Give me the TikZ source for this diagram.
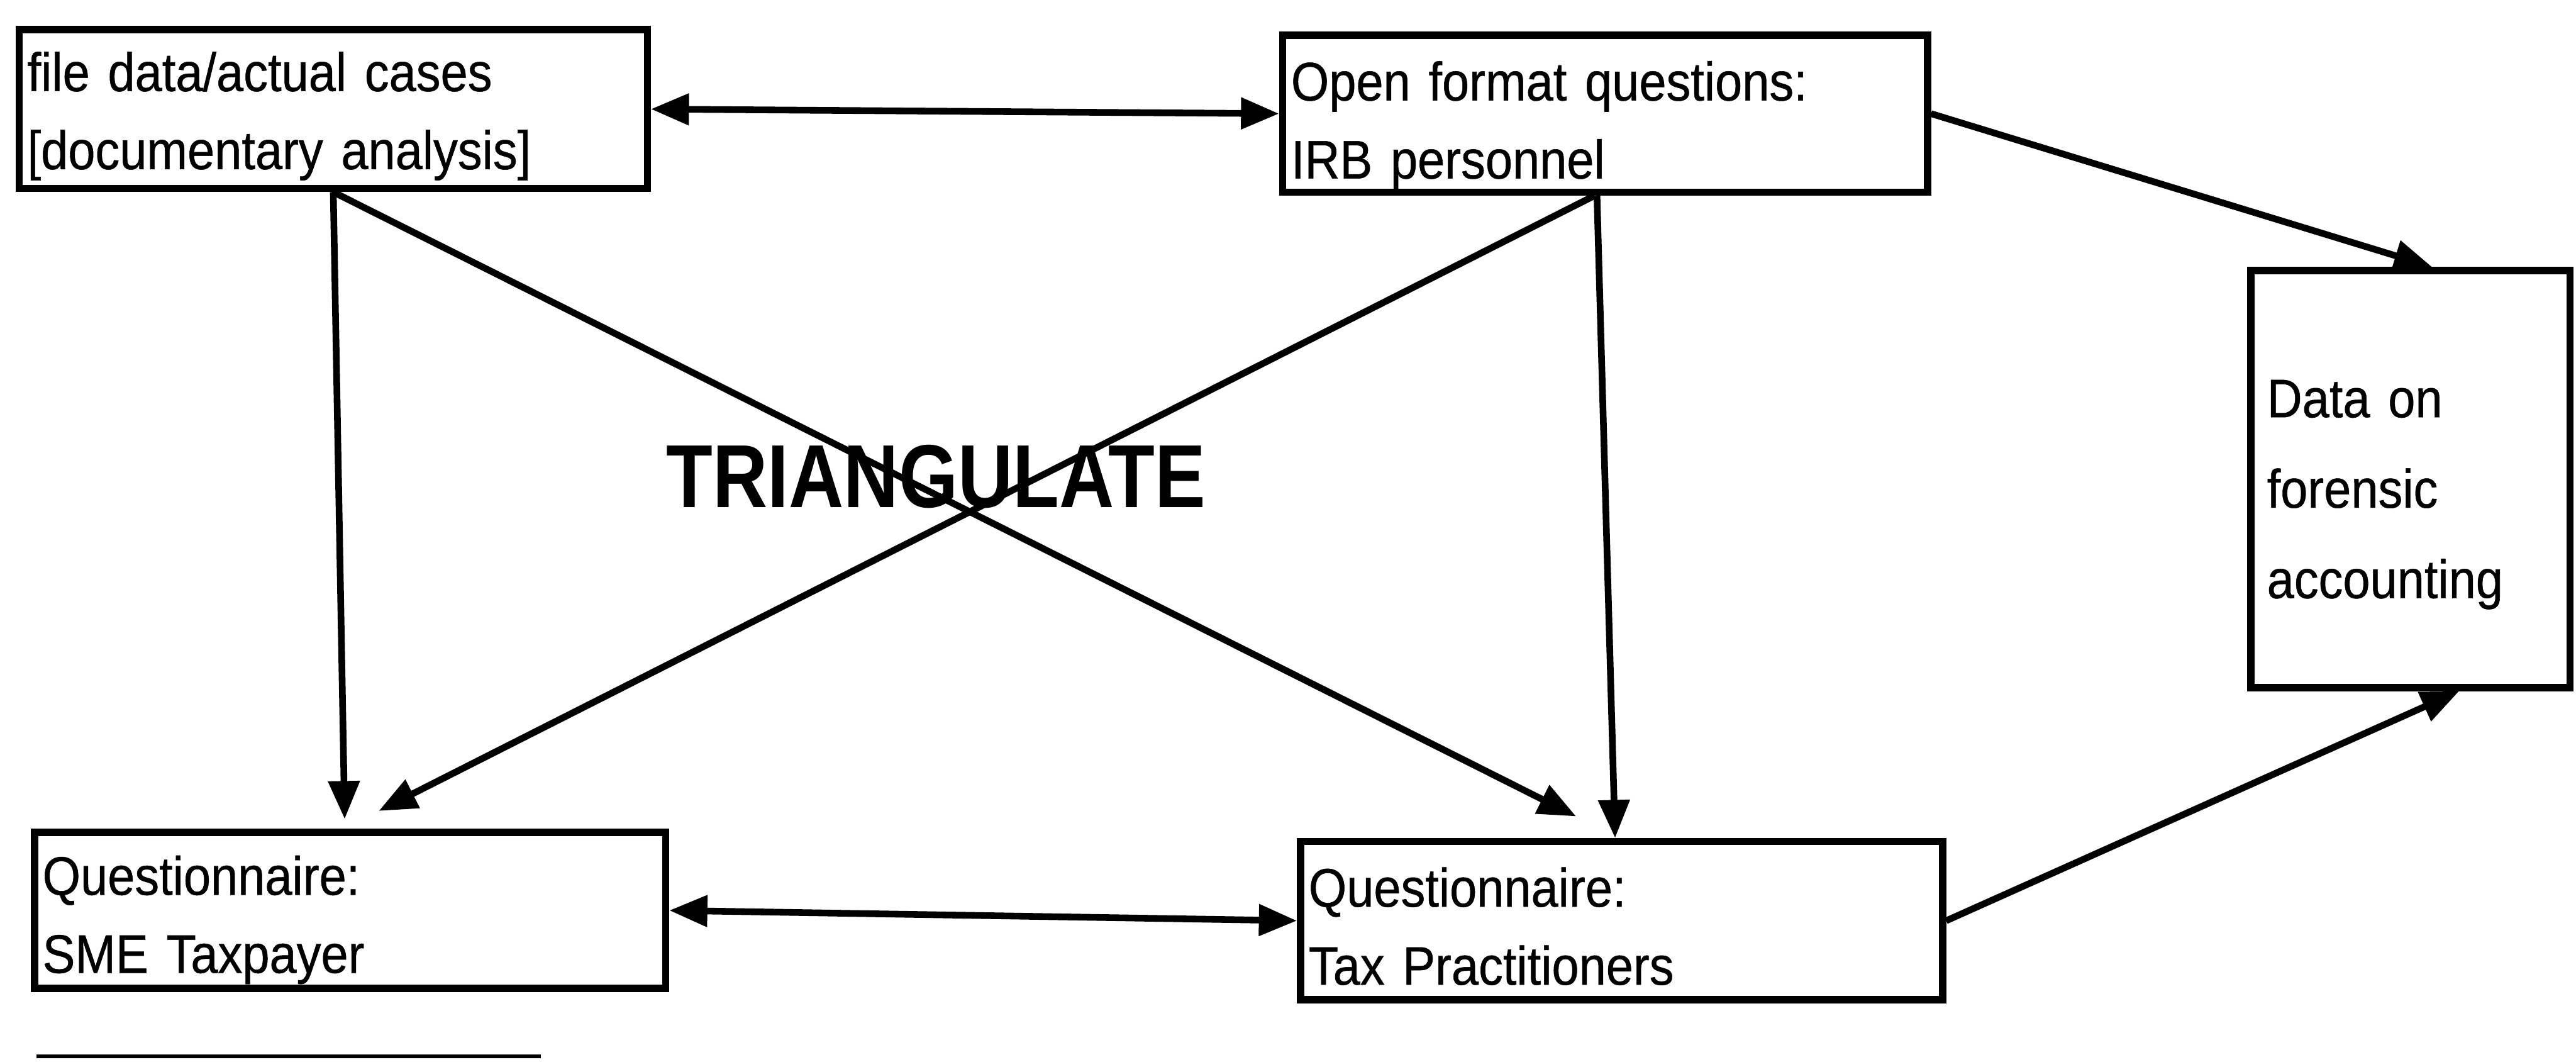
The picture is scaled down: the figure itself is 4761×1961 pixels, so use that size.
\documentclass[tikz,border=0pt]{standalone}
\usepackage{fontspec}
\setmainfont{Liberation Sans}[FakeStretch=0.9, WordSpace=0.85, FakeBold=0.6]
\newfontfamily\trifont{Liberation Sans}[FakeStretch=0.85]
\usetikzlibrary{arrows.meta,calc}
\newcommand\topstrut[1]{\rule{0pt}{#1}}
\tikzset{
  box/.style={draw=black, line width=3.8pt, rectangle, align=left, anchor=center,
    font=\fontsize{28.5}{41}\selectfont, inner ysep=0pt},
  conn/.style={line width=3.5pt, -{Triangle[length=20pt,width=16pt]}},
  dconn/.style={line width=3.5pt, {Triangle[length=20pt,width=16pt]}-{Triangle[length=20pt,width=16pt]}},
}
\begin{document}
\begin{tikzpicture}[x=0.01cm,y=-0.01cm]
\path[use as bounding box, fill=white] (0,0) rectangle (4761,1961);

\node[box, minimum width=11.60cm, minimum height=2.93cm, text width=11.30cm, inner xsep=0.14cm] (A) at (616,201.5)
  {\topstrut{28pt}file data/actual cases\\{}{[}documentary analysis{]}};
\node[box, minimum width=11.91cm, minimum height=2.90cm, text width=11.60cm, inner xsep=0.13cm] (B) at (2966.5,210)
  {\topstrut{33pt}Open format questions:\\IRB personnel};
\node[box, minimum width=5.90cm, minimum height=7.70cm, text width=5.30cm, inner xsep=0.30cm,
  font=\fontsize{28.5}{47.5}\selectfont] (C) at (4455,885)
  {\topstrut{36pt}Data on\\forensic\\accounting};
\node[box, minimum width=11.66cm, minimum height=2.88cm, text width=11.36cm, inner xsep=0.15cm] (D) at (647,1682)
  {\topstrut{30.5pt}Questionnaire:\\SME Taxpayer};
\node[box, minimum width=11.86cm, minimum height=2.92cm, text width=11.56cm, inner xsep=0.15cm] (E) at (2997,1701)
  {\topstrut{26.5pt}Questionnaire:\\Tax Practitioners};

\node[font=\trifont\bfseries\fontsize{47}{50}\selectfont, inner sep=0pt] (T) at (1730,880) {TRIANGULATE};

\draw[dconn] (A.east) -- (B.west);
\draw[dconn] (D.east) -- (E.west);
\draw[conn] (A.south) -- ($(D.north)+(-10,-18)$);
\draw[conn] (A.south) -- ($(E.north)+(-84,-40)$);
\draw[conn] ($(B.south)+(-20,0)$) -- ($(D.north)+(53,-33)$);
\draw[conn] ($(B.south)+(-15,0)$) -- ($(E.north)+(-12,0)$);
\draw[conn] (B.east) -- ($(C.north)+(40,0)$);
\draw[conn] (E.east) -- ($(C.south)+(90,0)$);

\draw[line width=2pt] (67,1952) -- (1000,1952);
\end{tikzpicture}
\end{document}
